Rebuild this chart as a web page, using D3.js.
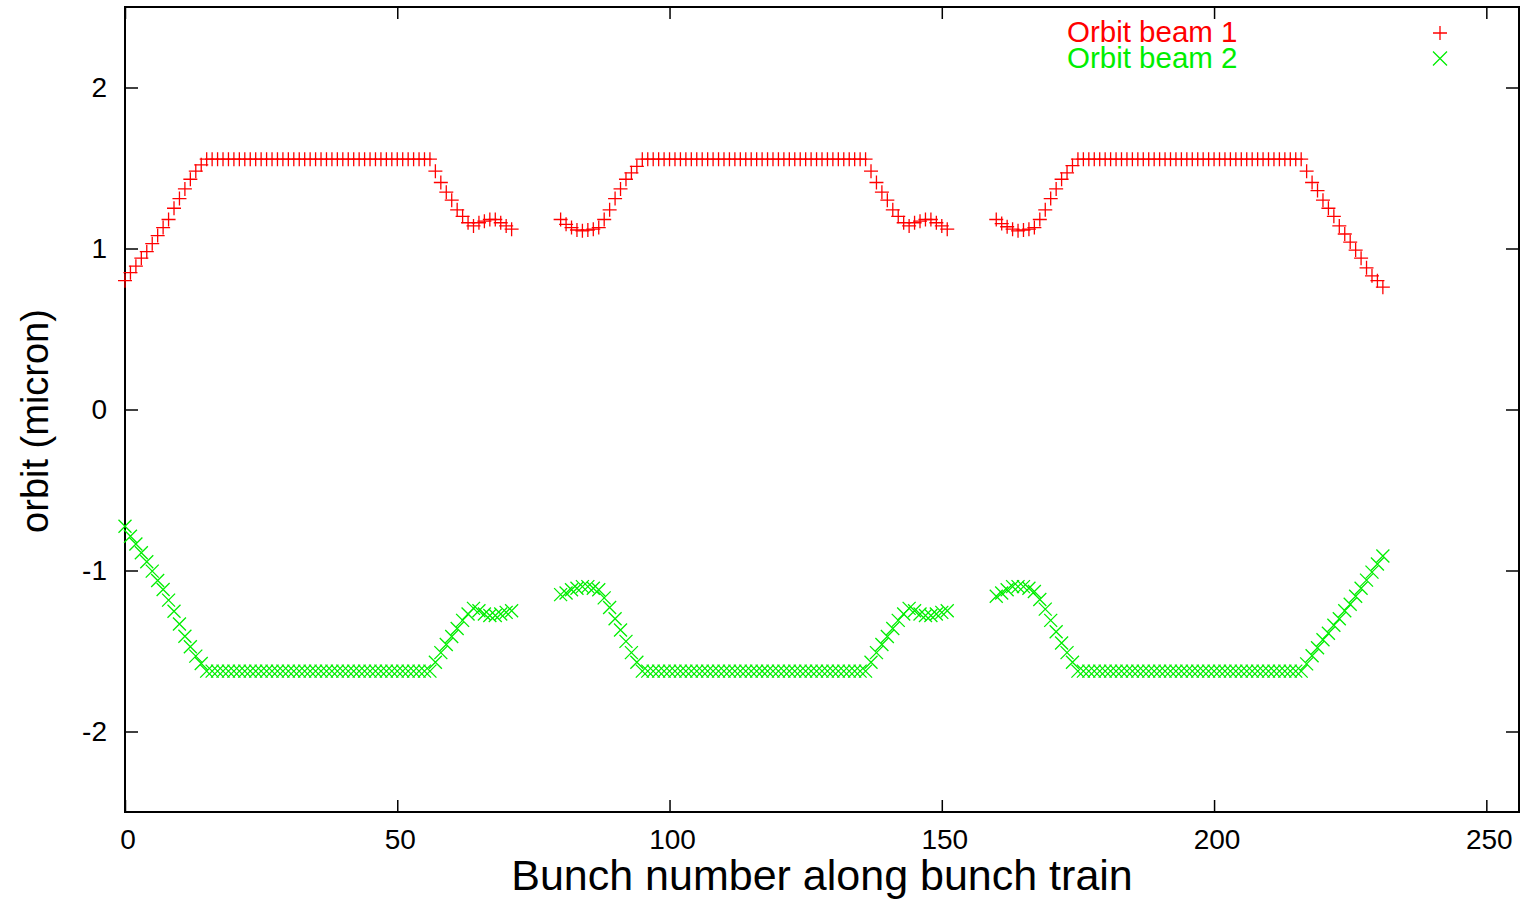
<!DOCTYPE html>
<html>
<head>
<meta charset="utf-8">
<script src="https://cdn.jsdelivr.net/npm/d3@7"></script>
<style>
  html, body { margin: 0; padding: 0; background: #fff; }
  svg { display: block; font-family: 'Liberation Sans', Arial, Helvetica, sans-serif; }
  .axis path { display: none; }
  .axis line { stroke: #000; stroke-width: 1.5; }
  .axis text { font-size: 28px; fill: #000; }
</style>
</head>
<body>
<svg id="chart" width="1528" height="899"></svg>
<script>
'use strict';

// first bunch number of each train
var trainStart = [0, 80, 160];

// beam 1 orbit (micron), one array per train of 72 bunches
var beam1Train1 = [
  0.80, 0.85, 0.89, 0.94, 0.98, 1.03, 1.08, 1.13, 1.18, 1.25, 1.31, 1.37, 1.43, 1.48, 1.52, 1.555,
  1.555, 1.555, 1.555, 1.555, 1.555, 1.555, 1.555, 1.555, 1.555, 1.555, 1.555, 1.555, 1.555, 1.555,
  1.555, 1.555, 1.555, 1.555, 1.555, 1.555, 1.555, 1.555, 1.555, 1.555, 1.555, 1.555, 1.555, 1.555,
  1.555, 1.555, 1.555, 1.555, 1.555, 1.555, 1.555, 1.555, 1.555, 1.555, 1.555, 1.555, 1.555,
  1.48, 1.41, 1.35, 1.30, 1.24, 1.20, 1.16, 1.14, 1.16, 1.17, 1.18, 1.18, 1.16, 1.14, 1.12
];
var beam1Train2 = [
  1.18, 1.15, 1.13, 1.115, 1.11, 1.115, 1.12, 1.13, 1.18, 1.24, 1.31, 1.37, 1.43, 1.47, 1.51, 1.555,
  1.555, 1.555, 1.555, 1.555, 1.555, 1.555, 1.555, 1.555, 1.555, 1.555, 1.555, 1.555, 1.555, 1.555,
  1.555, 1.555, 1.555, 1.555, 1.555, 1.555, 1.555, 1.555, 1.555, 1.555, 1.555, 1.555, 1.555, 1.555,
  1.555, 1.555, 1.555, 1.555, 1.555, 1.555, 1.555, 1.555, 1.555, 1.555, 1.555, 1.555, 1.555,
  1.48, 1.41, 1.35, 1.30, 1.24, 1.20, 1.16, 1.14, 1.16, 1.17, 1.18, 1.18, 1.16, 1.14, 1.12
];
var beam1Train3 = [
  1.18, 1.155, 1.135, 1.12, 1.11, 1.115, 1.12, 1.13, 1.18, 1.24, 1.31, 1.37, 1.43, 1.47, 1.515, 1.555,
  1.555, 1.555, 1.555, 1.555, 1.555, 1.555, 1.555, 1.555, 1.555, 1.555, 1.555, 1.555, 1.555, 1.555,
  1.555, 1.555, 1.555, 1.555, 1.555, 1.555, 1.555, 1.555, 1.555, 1.555, 1.555, 1.555, 1.555, 1.555,
  1.555, 1.555, 1.555, 1.555, 1.555, 1.555, 1.555, 1.555, 1.555, 1.555, 1.555, 1.555, 1.555,
  1.48, 1.41, 1.36, 1.30, 1.25, 1.20, 1.14, 1.09, 1.04, 0.99, 0.94, 0.88, 0.83, 0.80, 0.76
];

// beam 2 orbit (micron)
var beam2Train1 = [
  -0.725, -0.787, -0.835, -0.89, -0.946, -1.004, -1.062, -1.118, -1.184, -1.253, -1.332, -1.408, -1.474, -1.532, -1.578, -1.625,
  -1.625, -1.625, -1.625, -1.625, -1.625, -1.625, -1.625, -1.625, -1.625, -1.625, -1.625, -1.625, -1.625, -1.625,
  -1.625, -1.625, -1.625, -1.625, -1.625, -1.625, -1.625, -1.625, -1.625, -1.625, -1.625, -1.625, -1.625, -1.625,
  -1.625, -1.625, -1.625, -1.625, -1.625, -1.625, -1.625, -1.625, -1.625, -1.625, -1.625, -1.625, -1.625,
  -1.57, -1.51, -1.46, -1.41, -1.36, -1.31, -1.27, -1.235, -1.25, -1.27, -1.28, -1.28, -1.27, -1.26, -1.25
];
var beam2Train2 = [
  -1.15, -1.14, -1.12, -1.11, -1.10, -1.10, -1.11, -1.12, -1.17, -1.23, -1.30, -1.37, -1.44, -1.51, -1.57, -1.625,
  -1.625, -1.625, -1.625, -1.625, -1.625, -1.625, -1.625, -1.625, -1.625, -1.625, -1.625, -1.625, -1.625, -1.625,
  -1.625, -1.625, -1.625, -1.625, -1.625, -1.625, -1.625, -1.625, -1.625, -1.625, -1.625, -1.625, -1.625, -1.625,
  -1.625, -1.625, -1.625, -1.625, -1.625, -1.625, -1.625, -1.625, -1.625, -1.625, -1.625, -1.625, -1.625,
  -1.57, -1.51, -1.46, -1.41, -1.36, -1.31, -1.27, -1.235, -1.25, -1.27, -1.28, -1.28, -1.27, -1.26, -1.25
];
var beam2Train3 = [
  -1.16, -1.14, -1.12, -1.10, -1.10, -1.10, -1.11, -1.13, -1.18, -1.24, -1.31, -1.38, -1.45, -1.51, -1.57, -1.625,
  -1.625, -1.625, -1.625, -1.625, -1.625, -1.625, -1.625, -1.625, -1.625, -1.625, -1.625, -1.625, -1.625, -1.625,
  -1.625, -1.625, -1.625, -1.625, -1.625, -1.625, -1.625, -1.625, -1.625, -1.625, -1.625, -1.625, -1.625, -1.625,
  -1.625, -1.625, -1.625, -1.625, -1.625, -1.625, -1.625, -1.625, -1.625, -1.625, -1.625, -1.625, -1.625,
  -1.58, -1.53, -1.48, -1.43, -1.39, -1.34, -1.30, -1.25, -1.21, -1.16, -1.11, -1.06, -1.01, -0.96, -0.91
];

var xTicks = [0, 50, 100, 150, 200, 250];
var yTicks = [-2, -1, 0, 1, 2];

var series = [
  { name: 'Orbit beam 1', color: '#ff0000', marker: 'plus',  trains: [beam1Train1, beam1Train2, beam1Train3] },
  { name: 'Orbit beam 2', color: '#00ee00', marker: 'cross', trains: [beam2Train1, beam2Train2, beam2Train3] }
];

var plotLeft = 125, plotRight = 1519, plotTop = 7, plotBottom = 812;

var x = d3.scaleLinear().domain([0, 256]).range([plotLeft, plotRight]);
var y = d3.scaleLinear().domain([-2.5, 2.5]).range([plotBottom, plotTop]);

var svg = d3.select('#chart');

// gnuplot style labels: plain hyphen for minus
function plainLabel(d) { return String(d); }

// axes, ticks pointing inward, mirrored on top/right
svg.append('g').attr('class', 'axis')
    .attr('transform', 'translate(0,' + plotBottom + ')')
    .call(d3.axisBottom(x).tickValues(xTicks).tickSizeInner(-12).tickSizeOuter(0).tickPadding(17).tickFormat(plainLabel))
  .selectAll('text').attr('dx', 2.5);
svg.append('g').attr('class', 'axis')
    .attr('transform', 'translate(0,' + plotTop + ')')
    .call(d3.axisTop(x).tickValues(xTicks).tickSizeInner(-12).tickSizeOuter(0).tickFormat(''));
svg.append('g').attr('class', 'axis')
    .attr('transform', 'translate(' + plotLeft + ',0)')
    .call(d3.axisLeft(y).tickValues(yTicks).tickSizeInner(-13).tickSizeOuter(0).tickPadding(18).tickFormat(plainLabel));
svg.append('g').attr('class', 'axis')
    .attr('transform', 'translate(' + plotRight + ',0)')
    .call(d3.axisRight(y).tickValues(yTicks).tickSizeInner(-13).tickSizeOuter(0).tickFormat(''));

svg.append('rect')
    .attr('x', plotLeft).attr('y', plotTop)
    .attr('width', plotRight - plotLeft).attr('height', plotBottom - plotTop)
    .attr('fill', 'none').attr('stroke', '#000').attr('stroke-width', 2);

// marker paths
function markerPath(type, r) {
  if (type === 'plus') {
    return 'M' + (-r) + ',0H' + r + 'M0,' + (-r) + 'V' + r;
  }
  return 'M' + (-r) + ',' + (-r) + 'L' + r + ',' + r + 'M' + (-r) + ',' + r + 'L' + r + ',' + (-r);
}

series.forEach(function(s) {
  var pts = [];
  s.trains.forEach(function(vals, t) {
    vals.forEach(function(v, i) {
      pts.push({ bunch: trainStart[t] + i, orbit: v });
    });
  });
  var r = s.marker === 'plus' ? 7 : 6.5;
  svg.append('g')
    .selectAll('path')
    .data(pts)
    .enter().append('path')
      .attr('transform', function(d) { return 'translate(' + x(d.bunch) + ',' + y(d.orbit) + ')'; })
      .attr('d', markerPath(s.marker, r))
      .attr('fill', 'none')
      .attr('stroke', s.color)
      .attr('stroke-width', 1.3);
});

// legend
var legend = svg.append('g');
series.forEach(function(s, i) {
  var ly = 42 + i * 25.5;
  legend.append('text')
    .attr('x', 1067).attr('y', ly)
    .attr('font-size', 29.5)
    .attr('fill', s.color)
    .text(s.name);
  legend.append('path')
    .attr('transform', 'translate(1440,' + (ly - 9) + ')')
    .attr('d', markerPath(s.marker, 7))
    .attr('fill', 'none')
    .attr('stroke', s.color)
    .attr('stroke-width', 1.3);
});

// axis titles
svg.append('text')
    .attr('x', 822).attr('y', 890)
    .attr('text-anchor', 'middle')
    .attr('font-size', 43)
    .text('Bunch number along bunch train');

svg.append('text')
    .attr('transform', 'translate(48,421) rotate(-90)')
    .attr('text-anchor', 'middle')
    .attr('font-size', 38)
    .text('orbit (micron)');
</script>
</body>
</html>
